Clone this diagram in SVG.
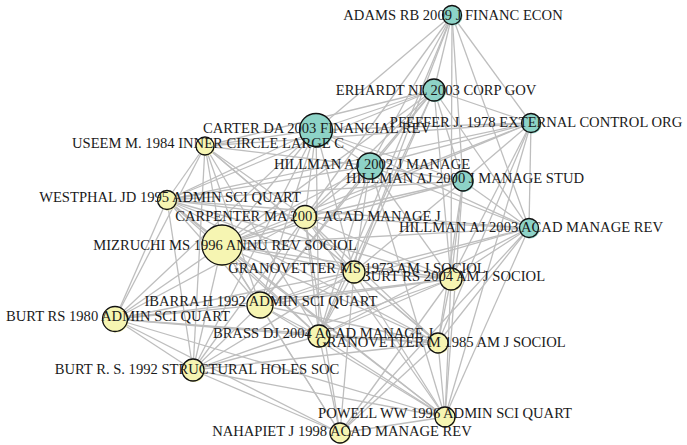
<svg xmlns="http://www.w3.org/2000/svg" width="687" height="445" viewBox="0 0 687 445">
<style>
.edges line{stroke:#bebebe;stroke-width:1.3;fill:none}
.sh{stroke:none}
.nd{stroke:#111;stroke-width:1.3}
.t .sh,.t .nd{fill:#8dd3c7}
.y .sh,.y .nd{fill:#f6f5b2}
text{font-family:"Liberation Serif","Times New Roman",serif;font-size:14.6px;fill:#1a1a1a;text-anchor:middle}
</style>
<rect width="687" height="445" fill="#ffffff"/>
<g id="edges" class="edges">
<line x1="452" y1="15" x2="434" y2="90"/>
<line x1="452" y1="15" x2="531" y2="123"/>
<line x1="452" y1="15" x2="316" y2="130"/>
<line x1="452" y1="15" x2="305" y2="217"/>
<line x1="452" y1="15" x2="370" y2="166"/>
<line x1="452" y1="15" x2="463" y2="181"/>
<line x1="452" y1="15" x2="529" y2="228"/>
<line x1="452" y1="15" x2="354" y2="272"/>
<line x1="452" y1="15" x2="451" y2="279"/>
<line x1="452" y1="15" x2="319" y2="336"/>
<line x1="434" y1="90" x2="531" y2="123"/>
<line x1="434" y1="90" x2="316" y2="130"/>
<line x1="434" y1="90" x2="370" y2="166"/>
<line x1="434" y1="90" x2="463" y2="181"/>
<line x1="434" y1="90" x2="529" y2="228"/>
<line x1="434" y1="90" x2="305" y2="217"/>
<line x1="434" y1="90" x2="205" y2="146"/>
<line x1="434" y1="90" x2="167" y2="200"/>
<line x1="434" y1="90" x2="222" y2="245"/>
<line x1="434" y1="90" x2="354" y2="272"/>
<line x1="434" y1="90" x2="451" y2="279"/>
<line x1="434" y1="90" x2="260" y2="305"/>
<line x1="434" y1="90" x2="319" y2="336"/>
<line x1="531" y1="123" x2="316" y2="130"/>
<line x1="531" y1="123" x2="370" y2="166"/>
<line x1="531" y1="123" x2="463" y2="181"/>
<line x1="531" y1="123" x2="529" y2="228"/>
<line x1="531" y1="123" x2="305" y2="217"/>
<line x1="531" y1="123" x2="167" y2="200"/>
<line x1="531" y1="123" x2="222" y2="245"/>
<line x1="531" y1="123" x2="451" y2="279"/>
<line x1="531" y1="123" x2="438" y2="343"/>
<line x1="531" y1="123" x2="445" y2="417"/>
<line x1="531" y1="123" x2="205" y2="146"/>
<line x1="316" y1="130" x2="370" y2="166"/>
<line x1="316" y1="130" x2="463" y2="181"/>
<line x1="316" y1="130" x2="529" y2="228"/>
<line x1="316" y1="130" x2="305" y2="217"/>
<line x1="316" y1="130" x2="205" y2="146"/>
<line x1="316" y1="130" x2="167" y2="200"/>
<line x1="316" y1="130" x2="222" y2="245"/>
<line x1="316" y1="130" x2="354" y2="272"/>
<line x1="316" y1="130" x2="260" y2="305"/>
<line x1="316" y1="130" x2="115" y2="319"/>
<line x1="316" y1="130" x2="193" y2="370"/>
<line x1="316" y1="130" x2="319" y2="336"/>
<line x1="370" y1="166" x2="463" y2="181"/>
<line x1="370" y1="166" x2="529" y2="228"/>
<line x1="370" y1="166" x2="305" y2="217"/>
<line x1="370" y1="166" x2="205" y2="146"/>
<line x1="370" y1="166" x2="167" y2="200"/>
<line x1="370" y1="166" x2="222" y2="245"/>
<line x1="370" y1="166" x2="354" y2="272"/>
<line x1="370" y1="166" x2="451" y2="279"/>
<line x1="370" y1="166" x2="260" y2="305"/>
<line x1="370" y1="166" x2="319" y2="336"/>
<line x1="370" y1="166" x2="445" y2="417"/>
<line x1="463" y1="181" x2="529" y2="228"/>
<line x1="463" y1="181" x2="305" y2="217"/>
<line x1="463" y1="181" x2="167" y2="200"/>
<line x1="463" y1="181" x2="222" y2="245"/>
<line x1="463" y1="181" x2="354" y2="272"/>
<line x1="463" y1="181" x2="451" y2="279"/>
<line x1="463" y1="181" x2="438" y2="343"/>
<line x1="463" y1="181" x2="445" y2="417"/>
<line x1="529" y1="228" x2="305" y2="217"/>
<line x1="529" y1="228" x2="167" y2="200"/>
<line x1="529" y1="228" x2="222" y2="245"/>
<line x1="529" y1="228" x2="354" y2="272"/>
<line x1="529" y1="228" x2="451" y2="279"/>
<line x1="529" y1="228" x2="260" y2="305"/>
<line x1="529" y1="228" x2="319" y2="336"/>
<line x1="529" y1="228" x2="438" y2="343"/>
<line x1="529" y1="228" x2="445" y2="417"/>
<line x1="529" y1="228" x2="340" y2="433"/>
<line x1="205" y1="146" x2="167" y2="200"/>
<line x1="205" y1="146" x2="305" y2="217"/>
<line x1="205" y1="146" x2="222" y2="245"/>
<line x1="205" y1="146" x2="354" y2="272"/>
<line x1="205" y1="146" x2="260" y2="305"/>
<line x1="205" y1="146" x2="115" y2="319"/>
<line x1="205" y1="146" x2="319" y2="336"/>
<line x1="205" y1="146" x2="193" y2="370"/>
<line x1="205" y1="146" x2="438" y2="343"/>
<line x1="167" y1="200" x2="305" y2="217"/>
<line x1="167" y1="200" x2="222" y2="245"/>
<line x1="167" y1="200" x2="354" y2="272"/>
<line x1="167" y1="200" x2="451" y2="279"/>
<line x1="167" y1="200" x2="260" y2="305"/>
<line x1="167" y1="200" x2="115" y2="319"/>
<line x1="167" y1="200" x2="319" y2="336"/>
<line x1="167" y1="200" x2="193" y2="370"/>
<line x1="167" y1="200" x2="438" y2="343"/>
<line x1="167" y1="200" x2="445" y2="417"/>
<line x1="305" y1="217" x2="222" y2="245"/>
<line x1="305" y1="217" x2="354" y2="272"/>
<line x1="305" y1="217" x2="451" y2="279"/>
<line x1="305" y1="217" x2="260" y2="305"/>
<line x1="305" y1="217" x2="115" y2="319"/>
<line x1="305" y1="217" x2="319" y2="336"/>
<line x1="305" y1="217" x2="438" y2="343"/>
<line x1="305" y1="217" x2="193" y2="370"/>
<line x1="305" y1="217" x2="445" y2="417"/>
<line x1="305" y1="217" x2="340" y2="433"/>
<line x1="222" y1="245" x2="354" y2="272"/>
<line x1="222" y1="245" x2="451" y2="279"/>
<line x1="222" y1="245" x2="260" y2="305"/>
<line x1="222" y1="245" x2="115" y2="319"/>
<line x1="222" y1="245" x2="319" y2="336"/>
<line x1="222" y1="245" x2="438" y2="343"/>
<line x1="222" y1="245" x2="193" y2="370"/>
<line x1="222" y1="245" x2="445" y2="417"/>
<line x1="222" y1="245" x2="340" y2="433"/>
<line x1="354" y1="272" x2="451" y2="279"/>
<line x1="354" y1="272" x2="260" y2="305"/>
<line x1="354" y1="272" x2="115" y2="319"/>
<line x1="354" y1="272" x2="319" y2="336"/>
<line x1="354" y1="272" x2="438" y2="343"/>
<line x1="354" y1="272" x2="193" y2="370"/>
<line x1="354" y1="272" x2="445" y2="417"/>
<line x1="354" y1="272" x2="340" y2="433"/>
<line x1="451" y1="279" x2="260" y2="305"/>
<line x1="451" y1="279" x2="115" y2="319"/>
<line x1="451" y1="279" x2="319" y2="336"/>
<line x1="451" y1="279" x2="438" y2="343"/>
<line x1="451" y1="279" x2="193" y2="370"/>
<line x1="451" y1="279" x2="445" y2="417"/>
<line x1="451" y1="279" x2="340" y2="433"/>
<line x1="260" y1="305" x2="115" y2="319"/>
<line x1="260" y1="305" x2="319" y2="336"/>
<line x1="260" y1="305" x2="438" y2="343"/>
<line x1="260" y1="305" x2="193" y2="370"/>
<line x1="260" y1="305" x2="445" y2="417"/>
<line x1="260" y1="305" x2="340" y2="433"/>
<line x1="115" y1="319" x2="319" y2="336"/>
<line x1="115" y1="319" x2="438" y2="343"/>
<line x1="115" y1="319" x2="193" y2="370"/>
<line x1="115" y1="319" x2="445" y2="417"/>
<line x1="115" y1="319" x2="340" y2="433"/>
<line x1="319" y1="336" x2="438" y2="343"/>
<line x1="319" y1="336" x2="193" y2="370"/>
<line x1="319" y1="336" x2="445" y2="417"/>
<line x1="319" y1="336" x2="340" y2="433"/>
<line x1="438" y1="343" x2="193" y2="370"/>
<line x1="438" y1="343" x2="445" y2="417"/>
<line x1="438" y1="343" x2="340" y2="433"/>
<line x1="193" y1="370" x2="445" y2="417"/>
<line x1="193" y1="370" x2="340" y2="433"/>
<line x1="445" y1="417" x2="340" y2="433"/>
</g>
<g id="node-adams" class="t"><circle class="sh" cx="453" cy="16" r="9.5"/><circle class="nd" cx="452" cy="15" r="9.5"/><text x="453" y="20">ADAMS RB 2009 J FINANC ECON</text></g>
<g id="node-erhardt" class="t"><circle class="sh" cx="435" cy="91" r="11"/><circle class="nd" cx="434" cy="90" r="11"/><text x="436" y="95">ERHARDT NL 2003 CORP GOV</text></g>
<g id="node-pfeffer" class="t"><circle class="sh" cx="532" cy="124" r="9.5"/><circle class="nd" cx="531" cy="123" r="9.5"/><text x="536" y="127">PFEFFER J. 1978 EXTERNAL CONTROL ORG</text></g>
<g id="node-carter" class="t"><circle class="sh" cx="317" cy="131" r="16.5"/><circle class="nd" cx="316" cy="130" r="16.5"/><text x="317" y="133">CARTER DA 2003 FINANCIAL REV</text></g>
<g id="node-useem" class="y"><circle class="sh" cx="206" cy="147" r="9"/><circle class="nd" cx="205" cy="146" r="9"/><text x="208" y="148">USEEM M. 1984 INNER CIRCLE LARGE C</text></g>
<g id="node-hillman2002" class="t"><circle class="sh" cx="371" cy="167" r="13"/><circle class="nd" cx="370" cy="166" r="13"/><text x="372" y="169">HILLMAN AJ 2002 J MANAGE</text></g>
<g id="node-hillman2000" class="t"><circle class="sh" cx="464" cy="182" r="10"/><circle class="nd" cx="463" cy="181" r="10"/><text x="465" y="183">HILLMAN AJ 2000 J MANAGE STUD</text></g>
<g id="node-westphal" class="y"><circle class="sh" cx="168" cy="201" r="9.5"/><circle class="nd" cx="167" cy="200" r="9.5"/><text x="170" y="202">WESTPHAL JD 1995 ADMIN SCI QUART</text></g>
<g id="node-carpenter" class="y"><circle class="sh" cx="306" cy="218" r="11.5"/><circle class="nd" cx="305" cy="217" r="11.5"/><text x="308" y="221">CARPENTER MA 2001 ACAD MANAGE J</text></g>
<g id="node-hillman2003" class="t"><circle class="sh" cx="530" cy="229" r="9.5"/><circle class="nd" cx="529" cy="228" r="9.5"/><text x="531" y="232">HILLMAN AJ 2003 ACAD MANAGE REV</text></g>
<g id="node-mizruchi" class="y"><circle class="sh" cx="223" cy="246" r="20"/><circle class="nd" cx="222" cy="245" r="20"/><text x="225" y="250">MIZRUCHI MS 1996 ANNU REV SOCIOL</text></g>
<g id="node-burt2004" class="y"><circle class="sh" cx="452" cy="280" r="11"/><circle class="nd" cx="451" cy="279" r="11"/><text x="453" y="281">BURT RS 2004 AM J SOCIOL</text></g>
<g id="node-granovetter1973" class="y"><circle class="sh" cx="355" cy="273" r="11"/><circle class="nd" cx="354" cy="272" r="11"/><text x="357" y="273">GRANOVETTER MS 1973 AM J SOCIOL</text></g>
<g id="node-ibarra" class="y"><circle class="sh" cx="261" cy="306" r="13"/><circle class="nd" cx="260" cy="305" r="13"/><text x="261" y="306">IBARRA H 1992 ADMIN SCI QUART</text></g>
<g id="node-burt1980" class="y"><circle class="sh" cx="116" cy="320" r="12.5"/><circle class="nd" cx="115" cy="319" r="12.5"/><text x="118" y="321">BURT RS 1980 ADMIN SCI QUART</text></g>
<g id="node-brass" class="y"><circle class="sh" cx="320" cy="337" r="11"/><circle class="nd" cx="319" cy="336" r="11"/><text x="323" y="338">BRASS DJ 2004 ACAD MANAGE J</text></g>
<g id="node-granovetter1985" class="y"><circle class="sh" cx="439" cy="344" r="10"/><circle class="nd" cx="438" cy="343" r="10"/><text x="441" y="347">GRANOVETTER M 1985 AM J SOCIOL</text></g>
<g id="node-burt1992" class="y"><circle class="sh" cx="194" cy="371" r="11"/><circle class="nd" cx="193" cy="370" r="11"/><text x="197" y="374">BURT R. S. 1992 STRUCTURAL HOLES SOC</text></g>
<g id="node-powell" class="y"><circle class="sh" cx="446" cy="418" r="10"/><circle class="nd" cx="445" cy="417" r="10"/><text x="445" y="418">POWELL WW 1996 ADMIN SCI QUART</text></g>
<g id="node-nahapiet" class="y"><circle class="sh" cx="341" cy="434" r="10"/><circle class="nd" cx="340" cy="433" r="10"/><text x="342" y="436">NAHAPIET J 1998 ACAD MANAGE REV</text></g>
</svg>
